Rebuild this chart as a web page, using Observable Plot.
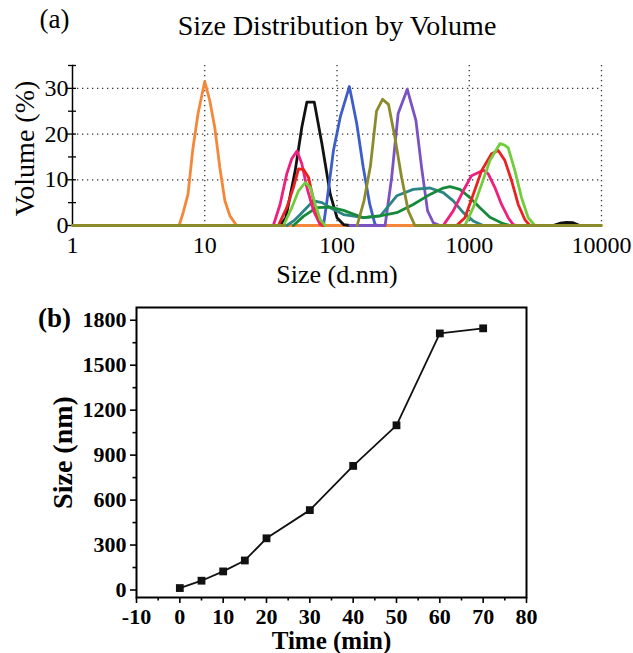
<!DOCTYPE html>
<html>
<head>
<meta charset="utf-8">
<script src="https://cdn.jsdelivr.net/npm/d3@7"></script>
<script src="https://cdn.jsdelivr.net/npm/@observablehq/plot@0.6"></script>
<style>
  html, body { margin: 0; padding: 0; background: #fff; }
  #chart { width: 633px; }
  #chart svg { display: block; }
</style>
</head>
<body>
<div id="chart"></div>
<script>
// ---------- Panel (a): size distribution by volume ----------
// each series: [size (d.nm), volume (%)]; null = break in the line
const orange = [[6.4,0],[6.8,2.4],[7.47,6.8],[8.1,16.4],[8.9,24.5],[10,31.5],[10.9,27.4],[11.9,21.5],[13,12.7],[14.2,5.4],[15.5,2.1],[17.4,0],[25,null],[40,0],[400,0]];
const black = [[37,0],[41,1.7],[48.3,12],[54.2,21.5],[59.2,27],[67.3,27],[76.9,17.9],[89,6.8],[100,1.7],[112,0.2],[125,0],[2000,null],[4300,0],[4900,0.5],[5430,0.7],[6100,0.6],[6850,0]];
const blue = [[79,0],[84,5.4],[94,16.4],[106,23.8],[124,30.4],[141,22.3],[158,12.7],[177,4.6],[194,0.2],[205,0]];
const purple = [[125,0],[231,0],[259,10.5],[290,24.5],[340,29.8],[395,23],[436,12.7],[484,3.2],[535,0.6],[600,0]];
const teal = [[41.7,0],[47,1],[52.7,2.4],[59,3.9],[66.5,5.4],[77,5],[89,3.9],[112,2.4],[160,1.7],[213,2.1],[283,6.5],[377,7.9],[505,8.2],[636,7.2],[757,5.4],[901,2.8],[1070,1],[1276,0]];
const darkGreen = [[46.8,0],[55.7,2],[70,3.9],[89,4],[112,3.3],[158,1.7],[211,2.1],[283,2.8],[377,4.6],[505,6.8],[636,8.2],[715,8.5],[850,7.9],[1012,6.1],[1204,3.9],[1433,1.8],[1806,0.4],[2028,0]];
const pink = [[33,0],[37.1,4.6],[41.7,11.3],[45.5,14.6],[49.8,16.3],[54.2,13.5],[59.2,8.3],[66.5,3.2],[74.6,0.2],[80,0],[300,null],[600,0],[636,0],[757,3.2],[901,7.6],[1041,10.9],[1276,12.1],[1392,11.3],[1563,8.3],[1755,4.6],[1971,1.7],[2150,0.2],[2300,0]];
const red = [[36,0],[41.7,3.9],[46.8,8.3],[51.2,12.4],[56,12.2],[61,10.5],[66.5,5.4],[72.5,1.7],[79,0],[300,null],[802,0],[927,1.7],[1072,6.8],[1240,12],[1475,15.7],[1656,16.4],[1860,14.2],[2090,9.8],[2345,4.6],[2632,1.3],[2873,0]];
const lightGreen = [[39.4,0],[45.5,3.9],[51.2,7.6],[57.5,9.4],[62.9,8.3],[68.5,4.6],[74.6,1.3],[81.4,0],[300,null],[927,0],[1072,3.9],[1240,9],[1433,14.2],[1705,17.9],[1850,17.6],[1971,17],[2213,12],[2485,6.1],[2790,1.7],[3133,0]];
const olive = [[1,0],[40,0],[80,null],[142,0],[160,5.4],[179,13],[199,25],[221,27.6],[245,26.5],[274,19.3],[308,10.5],[346,3.2],[388,0],[10000,0]];

const seriesOrder = [
  [orange, "#f5873a"], [black, "#111111"], [blue, "#3d5ec6"], [purple, "#7b52c2"],
  [teal, "#2b8585"], [darkGreen, "#17893a"], [pink, "#f01e7e"], [red, "#ec2020"],
  [lightGreen, "#70cd3c"], [olive, "#8b8b2c"]
];
const sizeDomainA = [1, 10000];
const volDomain = [0, 35];
const sizeTicksA = [1, 10, 100, 1000, 10000];
const gridXA = [10, 100, 1000, 10000];
const volTicks = [0, 10, 20, 30];
const volMinor = [5, 15, 25, 35];
const volAll = [0, 5, 10, 15, 20, 25, 30, 35];

const serif = "'Liberation Serif', 'Times New Roman', serif";
const centered = {textAnchor: "middle", lineAnchor: "middle"};

const plotA = Plot.plot({
  width: 633, height: 290,
  marginLeft: 72, marginRight: 32, marginTop: 65, marginBottom: 65,
  style: {fontFamily: serif, fontSize: "24px", color: "#000"},
  x: {type: "log", domain: sizeDomainA, label: null},
  y: {domain: volDomain, label: null},
  marks: [
    Plot.gridX({ticks: gridXA, stroke: "#333", strokeOpacity: 1, strokeWidth: 1.3, strokeDasharray: "1.3,3.7"}),
    Plot.gridY({ticks: [10, 20, 30], stroke: "#333", strokeOpacity: 1, strokeWidth: 1.3, strokeDasharray: "1.3,3.7"}),
    Plot.frame({anchor: "left", stroke: "#000", strokeWidth: 1.5}),
    Plot.axisY({ticks: volTicks, tickSize: 5, tickPadding: -1, fontSize: 24, label: null, strokeWidth: 1.3}),
    Plot.axisY({ticks: volMinor, tickSize: 4, tickFormat: () => "", label: null, strokeWidth: 1.3}),
    Plot.axisY({ticks: volAll, tickSize: -4, tickFormat: () => "", label: null, strokeWidth: 1.3}),
    Plot.axisX({ticks: sizeTicksA, tickSize: 0, tickPadding: 10, tickFormat: d => String(d), fontSize: 24, label: null}),
    ...seriesOrder.map(([pts, color]) =>
      Plot.line(pts, {x: d => d[0], y: d => d[1], stroke: color, strokeWidth: 2.8, strokeLinejoin: "round"})),
    Plot.text(["Size Distribution by Volume"], {frameAnchor: "top", dy: -39, fontSize: 28, ...centered}),
    Plot.text(["(a)"], {frameAnchor: "top-left", dx: -18, dy: -46, fontSize: 27, ...centered}),
    Plot.text(["Size (d.nm)"], {frameAnchor: "bottom", dy: 49, fontSize: 26, ...centered}),
    Plot.text(["Volume (%)"], {frameAnchor: "left", dx: -47, dy: 3, rotate: -90, fontSize: 28, ...centered})
  ]
});

// ---------- Panel (b): size vs time ----------
const times = [0, 5, 10, 15, 20, 30, 40, 50, 60, 70];
const sizes = [13, 62, 124, 197, 345, 533, 828, 1099, 1712, 1746];
const timeDomain = [-10, 80];
const sizeDomainB = [-50, 1885];
const timeTicks = [-10, 0, 10, 20, 30, 40, 50, 60, 70, 80];
const timeMinor = [-5, 5, 15, 25, 35, 45, 55, 65, 75];
const sizeTicksB = [0, 300, 600, 900, 1200, 1500, 1800];
const sizeMinorB = [150, 450, 750, 1050, 1350, 1650];
const growth = times.map((t, i) => ({time: t, size: sizes[i]}));

const plotB = Plot.plot({
  width: 633, height: 363,
  marginLeft: 136, marginRight: 107, marginTop: 17, marginBottom: 56,
  style: {fontFamily: serif, fontSize: "22px", color: "#000"},
  x: {domain: timeDomain, label: null},
  y: {domain: sizeDomainB, label: null},
  marks: [
    Plot.frame({stroke: "#000", strokeWidth: 2}),
    Plot.axisX({ticks: timeTicks, tickSize: 6, tickPadding: 5, tickFormat: d => String(d), fontSize: 22, fontWeight: "bold", label: null, strokeWidth: 1.6}),
    Plot.axisX({ticks: timeMinor, tickSize: 3.5, tickFormat: () => "", label: null, strokeWidth: 1.6}),
    Plot.axisY({ticks: sizeTicksB, tickSize: 6, tickPadding: 4, tickFormat: d => String(d), fontSize: 22, fontWeight: "bold", label: null, strokeWidth: 1.6}),
    Plot.axisY({ticks: sizeMinorB, tickSize: 3.5, tickFormat: () => "", label: null, strokeWidth: 1.6}),
    Plot.line(growth, {x: "time", y: "size", stroke: "#111", strokeWidth: 1.8}),
    Plot.dot(growth, {x: "time", y: "size", symbol: "square", r: 4.4, fill: "#111", stroke: "none"}),
    Plot.text(["(b)"], {frameAnchor: "top-left", dx: -82, dy: 11, fontSize: 27, fontWeight: "bold", ...centered}),
    Plot.text(["Time (min)"], {frameAnchor: "bottom", dy: 43, fontSize: 25, fontWeight: "bold", ...centered}),
    Plot.text(["Size (nm)"], {frameAnchor: "left", dx: -73, rotate: -90, fontSize: 28, fontWeight: "bold", ...centered})
  ]
});

document.getElementById("chart").append(plotA, plotB);
</script>
</body>
</html>
